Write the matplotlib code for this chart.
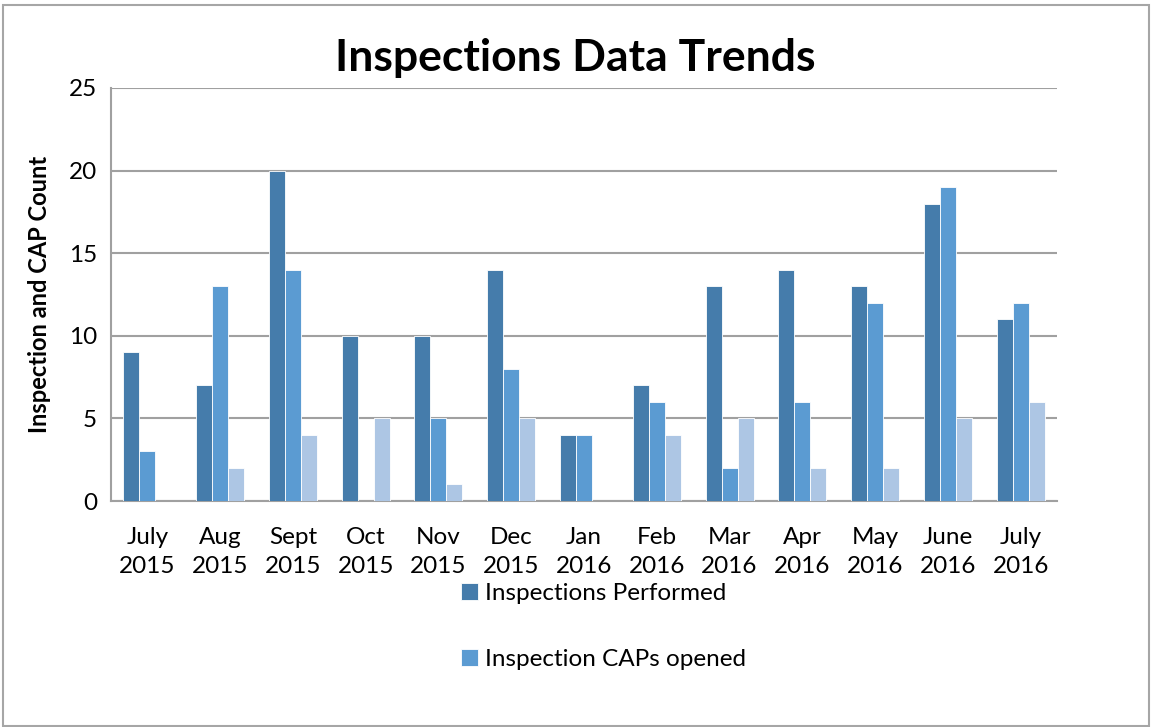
import numpy as np
import matplotlib
matplotlib.use('Agg')
import matplotlib.pyplot as plt
from matplotlib.patches import Rectangle

plt.rcParams['font.family'] = ['Lato', 'DejaVu Sans']

months = ['July\n2015', 'Aug\n2015', 'Sept\n2015', 'Oct\n2015', 'Nov\n2015', 'Dec\n2015',
          'Jan\n2016', 'Feb\n2016', 'Mar\n2016', 'Apr\n2016', 'May\n2016', 'June\n2016',
          'July\n2016']
performed = [9, 7, 20, 10, 10, 14, 4, 7, 13, 14, 13, 18, 11]
caps_opened = [3, 13, 14, 0, 5, 8, 4, 6, 2, 6, 12, 19, 12]
caps_closed = [0, 2, 4, 5, 1, 5, 0, 4, 5, 2, 2, 5, 6]

fig = plt.figure(figsize=(11.51, 7.27), dpi=100)
ax = fig.add_axes([111 / 1151, 1 - 501 / 727, 946 / 1151, 413 / 727])

x = np.arange(len(months))
w = 0.22
b1 = ax.bar(x - w, performed, w, color='#457cab', edgecolor='white', linewidth=0.6,
            label='Inspections Performed', zorder=3)
b2 = ax.bar(x, caps_opened, w, color='#5b9bd2', edgecolor='white', linewidth=0.6,
            label='Inspection CAPs opened', zorder=3)
b3 = ax.bar(x + w, caps_closed, w, color='#adc6e4', edgecolor='white', linewidth=0.6,
            label='Inspection CAPs closed', zorder=3)

ax.set_xlim(-0.5, len(months) - 0.5)
ax.set_ylim(0, 25)
ax.set_yticks([0, 5, 10, 15, 20, 25])
ax.set_xticks(x)
ax.set_xticklabels(months, fontsize=17.5, linespacing=1.45)
ax.tick_params(axis='both', length=0, labelsize=17.5)
ax.tick_params(axis='x', pad=19)
ax.tick_params(axis='y', pad=10)
ax.yaxis.grid(True, color='#a0a0a0', linewidth=1.5, zorder=0)
for s in ['top', 'right']:
    ax.spines[s].set_visible(False)
for s in ['left', 'bottom']:
    ax.spines[s].set_color('#a0a0a0')
    ax.spines[s].set_linewidth(1.5)

ax.set_ylabel('Inspection and CAP Count', fontsize=17, fontweight='bold', labelpad=13)
fig.text(0.5, 1 - 58 / 727, 'Inspections Data Trends', ha='center', va='center',
         fontsize=32, fontweight='bold')

fig.legend(handles=[b1, b2], loc='upper left', bbox_to_anchor=(439 / 1151, 1 - 561 / 727),
           frameon=False, fontsize=17.5, labelspacing=1.85, handlelength=0.7,
           handleheight=0.7, handletextpad=0.3)

fig.patches.append(Rectangle((3 / 1151, 1 / 727), 1146 / 1151, 721 / 727,
                             transform=fig.transFigure, fill=False,
                             edgecolor='#a6a6a6', linewidth=1.5))

fig.savefig('out.png', dpi=100)
